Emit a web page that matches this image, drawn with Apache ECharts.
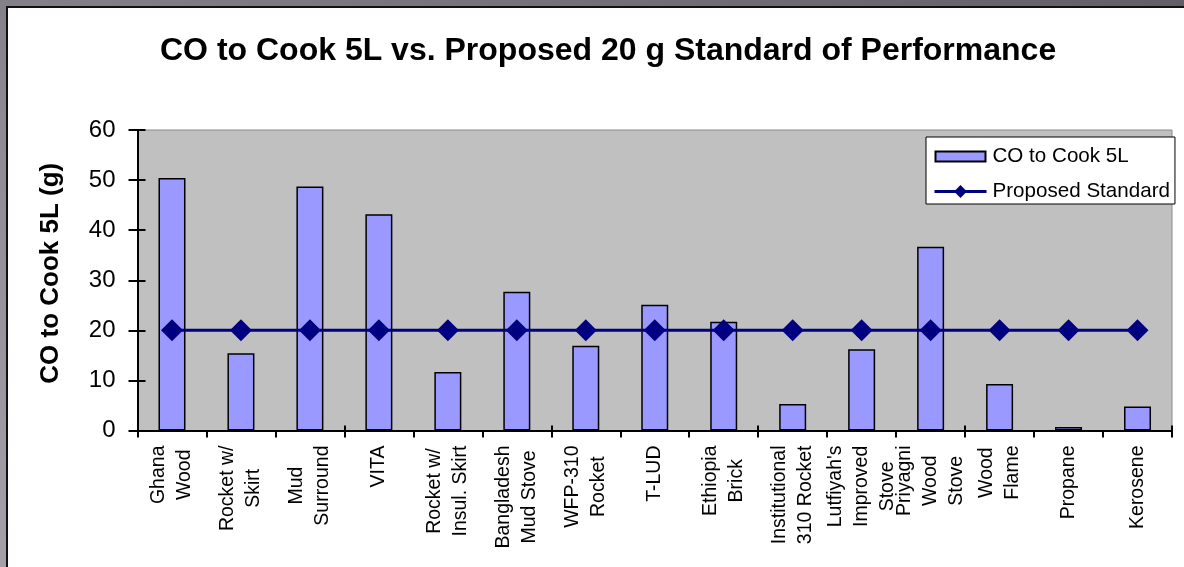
<!DOCTYPE html>
<html>
<head>
<meta charset="utf-8">
<script src="https://cdn.jsdelivr.net/npm/echarts@6/dist/echarts.min.js"></script>
<style>
  html, body { margin: 0; padding: 0; }
  body {
    width: 1184px; height: 567px; overflow: hidden; position: relative;
    background: linear-gradient(20deg, #a3a0a8 0%, #8d8a93 45%, #625e68 100%);
  }
  #panel {
    position: absolute; left: 6px; top: 6px; right: 0; bottom: 0;
    background: #ffffff;
    border-left: 2px solid #111; border-top: 2px solid #111;
  }
  #chart { position: absolute; left: 0; top: 0; width: 1184px; height: 567px; }
</style>
</head>
<body>
<div id="panel"></div>
<div id="chart"></div>
<script>
// Stove categories (each line of a label is one array entry)
const categories = [
  ['Ghana', 'Wood'],
  ['Rocket w/', 'Skirt'],
  ['Mud', 'Surround'],
  ['VITA'],
  ['Rocket w/', 'Insul. Skirt'],
  ['Bangladesh', 'Mud Stove'],
  ['WFP-310', 'Rocket'],
  ['T-LUD'],
  ['Ethiopia', 'Brick'],
  ['Institutional', '310 Rocket'],
  ["Lutfiyah's", 'Improved', 'Stove'],
  ['Priyagni', 'Wood', 'Stove'],
  ['Wood', 'Flame'],
  ['Propane'],
  ['Kerosene']
];

// Grams of CO emitted to cook 5 litres
const coToCook = [50.4, 15.4, 48.7, 43.2, 11.7, 27.7, 16.9, 25.1, 21.7, 5.3, 16.2, 36.7, 9.3, 0.7, 4.8];

// Proposed standard of performance (g)
const proposedStandard = [20, 20, 20, 20, 20, 20, 20, 20, 20, 20, 20, 20, 20, 20, 20];

const yTicks = { min: 0, max: 60, interval: 10 };

const FONT = "'Liberation Sans', Arial, sans-serif";
const LABEL_SIZE = 19.5;

// Rotated category labels end at the axis; shorter lines of a label get right
// padding of half the difference so every line sits centred on the longest one.
const ctx = document.createElement('canvas').getContext('2d');
ctx.font = LABEL_SIZE + 'px ' + FONT;
const labelRich = {};
const labelText = categories.map((lines, i) => {
  const widths = lines.map(s => ctx.measureText(s).width);
  const maxW = Math.max(...widths);
  return lines.map((s, j) => {
    const key = 'c' + i + '_' + j;
    labelRich[key] = {
      fontFamily: FONT, fontSize: LABEL_SIZE, lineHeight: 26, color: '#000',
      padding: [0, (maxW - widths[j]) / 2, 0, 0]
    };
    return '{' + key + '|' + s + '}';
  }).join('\n');
});
const catNames = categories.map(lines => lines.join(' '));

const chart = echarts.init(document.getElementById('chart'), null, { renderer: 'canvas' });

chart.setOption({
  animation: false,
  backgroundColor: 'transparent',
  title: {
    text: 'CO to Cook 5L vs. Proposed 20 g Standard of Performance',
    left: 160, top: 35, padding: 0,
    textStyle: { fontFamily: FONT, fontSize: 32, fontWeight: 'bold', color: '#000' }
  },
  legend: {
    orient: 'vertical',
    left: 926, top: 137,
    backgroundColor: '#ffffff', borderColor: '#000', borderWidth: 1, borderRadius: 0,
    padding: [9, 5, 2, 7],
    itemGap: 14,
    itemWidth: 52, itemHeight: 16,
    textStyle: { fontFamily: FONT, fontSize: 20.6, color: '#000', padding: [0, 0, 0, 1] },
    lineStyle: { width: 3 },
    data: [
      // move-to points keep the 10px tall swatch inside the 16px item box
      { name: 'CO to Cook 5L', icon: 'path://M0,0M52,16M1,3L51,3L51,13L1,13Z' },
      { name: 'Proposed Standard' }
    ]
  },
  grid: { left: 137.5, right: 12, top: 130, bottom: 136.5, show: true,
    outerBoundsMode: 'none', containLabel: false,
    backgroundColor: '#c0c0c0', borderColor: '#8a8a8a', borderWidth: 1 },
  xAxis: [
    {
      type: 'category', data: catNames, position: 'bottom',
      boundaryGap: true,
      axisLine: { lineStyle: { color: '#000', width: 2 } },
      axisTick: { show: true, inside: false, length: 7, lineStyle: { color: '#000', width: 2 } },
      axisLabel: {
        interval: 0, rotate: 90, margin: 15,
        fontFamily: FONT, fontSize: LABEL_SIZE, color: '#000', lineHeight: 26,
        formatter: (v, idx) => labelText[idx],
        rich: labelRich
      }
    },
    {
      // inner half of the crossing tick marks
      type: 'category', data: catNames, position: 'bottom', offset: 0,
      boundaryGap: true,
      axisLine: { show: false },
      axisTick: { show: true, inside: true, length: 5, lineStyle: { color: '#000', width: 2 } },
      axisLabel: { show: false }
    }
  ],
  yAxis: [
    {
      type: 'value', position: 'left', min: yTicks.min, max: yTicks.max, interval: yTicks.interval,
      name: 'CO to Cook 5L (g)', nameLocation: 'middle', nameRotate: 90, nameGap: 74,
      nameTextStyle: { fontFamily: FONT, fontSize: 26, fontWeight: 'bold', color: '#000', padding: [0, 0, 0, 14] },
      axisLine: { show: true, lineStyle: { color: '#000', width: 2 } },
      axisTick: { show: true, inside: false, length: 9, lineStyle: { color: '#000', width: 2 } },
      axisLabel: { margin: 22, fontFamily: FONT, fontSize: 24, color: '#000' },
      splitLine: { show: false }
    },
    {
      type: 'value', position: 'left', offset: 0, min: yTicks.min, max: yTicks.max, interval: yTicks.interval,
      axisLine: { show: false },
      axisTick: { show: true, inside: true, length: 8, lineStyle: { color: '#000', width: 2 } },
      axisLabel: { show: false },
      splitLine: { show: false }
    }
  ],
  series: [
    {
      name: 'CO to Cook 5L', type: 'bar', data: coToCook,
      barWidth: 27,
      itemStyle: { color: '#9999ff', borderColor: '#000', borderWidth: 1.5 }
    },
    {
      name: 'Proposed Standard', type: 'line', data: proposedStandard,
      symbol: 'diamond', symbolSize: 22,
      lineStyle: { color: '#000080', width: 3 },
      itemStyle: { color: '#000080' }
    }
  ]
});
</script>
</body>
</html>
